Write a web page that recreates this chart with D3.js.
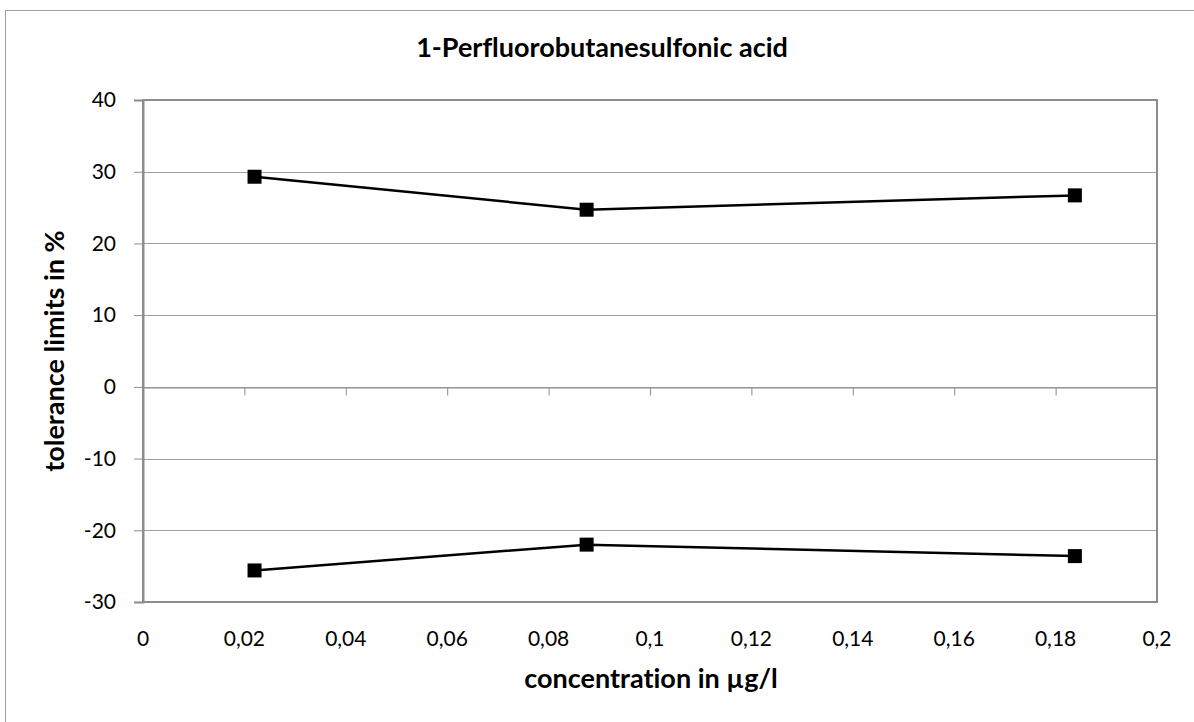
<!DOCTYPE html>
<html>
<head>
<meta charset="utf-8">
<script src="https://cdn.jsdelivr.net/npm/d3@7"></script>
<style>
  body { margin: 0; background: #fff; }
  svg text { font-family: Lato, "Open Sans", sans-serif; fill: #000; font-variant-ligatures: none; }
</style>
</head>
<body>
<div id="chart"></div>
<script>
  const TITLE = "1-Perfluorobutanesulfonic acid";
  const X_TITLE = "concentration in µg/l";
  const Y_TITLE = "tolerance limits in %";

  const concentrations = [0.022, 0.0875, 0.1838];
  const upperLimits = [29.3, 24.7, 26.7];
  const lowerLimits = [-25.6, -22.0, -23.6];

  const xTicks = [0, 0.02, 0.04, 0.06, 0.08, 0.1, 0.12, 0.14, 0.16, 0.18, 0.2];
  const yTicks = [40, 30, 20, 10, 0, -10, -20, -30];

  const width = 1194;
  const height = 722;
  const plot = { left: 143, top: 100, right: 1157, bottom: 602 };

  const svg = d3.select("#chart").append("svg")
    .attr("width", width)
    .attr("height", height);

  // outer chart border (cropped at right/bottom in the source)
  svg.append("rect")
    .attr("x", 5.5).attr("y", 10.5)
    .attr("width", 1300).attr("height", 800)
    .attr("fill", "none").attr("stroke", "#a0a0a0").attr("stroke-width", 1);

  const x = d3.scaleLinear().domain([0, 0.2]).range([plot.left, plot.right]);
  const y = d3.scaleLinear().domain([-30, 40]).range([plot.bottom, plot.top]);

  const fmt = d => String(+d.toFixed(2)).replace(".", ",");

  // gridlines
  svg.append("g")
    .selectAll("line")
    .data(yTicks)
    .join("line")
    .attr("x1", plot.left).attr("x2", plot.right)
    .attr("y1", d => Math.round(y(d)) + 0.5).attr("y2", d => Math.round(y(d)) + 0.5)
    .attr("stroke", "#a0a0a0").attr("stroke-width", 1);

  // plot frame
  svg.append("rect")
    .attr("x", plot.left).attr("y", plot.top)
    .attr("width", plot.right - plot.left).attr("height", plot.bottom - plot.top)
    .attr("fill", "none").attr("stroke", "#8c8c8c").attr("stroke-width", 2);

  // y axis with ticks and labels
  const leftAxis = d3.axisLeft(y).tickValues(yTicks).tickSize(9).tickPadding(18)
    .tickFormat(d => d);
  const yG = svg.append("g")
    .attr("transform", `translate(${plot.left},0)`)
    .call(leftAxis);
  yG.select(".domain").attr("stroke", "#8c8c8c").attr("stroke-width", 2);
  yG.selectAll(".tick line").attr("stroke", "#8c8c8c").attr("stroke-width", 1);
  yG.selectAll(".tick text").style("font-size", "21px").style("font-family", "Lato, sans-serif").attr("fill", "#000");

  // x axis crosses at 0
  const zeroAxis = d3.axisBottom(x).tickValues(xTicks).tickSize(8).tickFormat("");
  const zG = svg.append("g")
    .attr("transform", `translate(0,${Math.round(y(0)) + 0.5})`)
    .call(zeroAxis);
  zG.select(".domain").attr("stroke", "#8c8c8c").attr("stroke-width", 1);
  zG.selectAll(".tick line").attr("stroke", "#8c8c8c").attr("stroke-width", 1);

  // x tick labels below the plot
  svg.append("g")
    .selectAll("text")
    .data(xTicks)
    .join("text")
    .attr("x", d => x(d))
    .attr("y", 646)
    .attr("text-anchor", "middle")
    .style("font-size", "21px")
    .text(fmt);

  const line = d3.line()
    .x((d, i) => x(concentrations[i]))
    .y(d => y(d));

  [upperLimits, lowerLimits].forEach(series => {
    svg.append("path")
      .datum(series)
      .attr("d", line)
      .attr("fill", "none")
      .attr("stroke", "#000")
      .attr("stroke-width", 2.5);

    svg.append("g")
      .selectAll("rect")
      .data(series)
      .join("rect")
      .attr("x", (d, i) => x(concentrations[i]) - 7)
      .attr("y", d => y(d) - 7)
      .attr("width", 14).attr("height", 14)
      .attr("fill", "#000");
  });

  // titles
  svg.append("text")
    .attr("x", 602).attr("y", 57)
    .attr("text-anchor", "middle")
    .style("font-size", "27px").style("font-weight", "bold")
    .text(TITLE);

  svg.append("text")
    .attr("x", 651).attr("y", 688)
    .attr("text-anchor", "middle")
    .style("font-size", "27px").style("font-weight", "bold")
    .text(X_TITLE);

  svg.append("text")
    .attr("transform", `translate(64,351) rotate(-90)`)
    .attr("text-anchor", "middle")
    .style("font-size", "27px").style("font-weight", "bold")
    .text(Y_TITLE);
</script>
</body>
</html>
